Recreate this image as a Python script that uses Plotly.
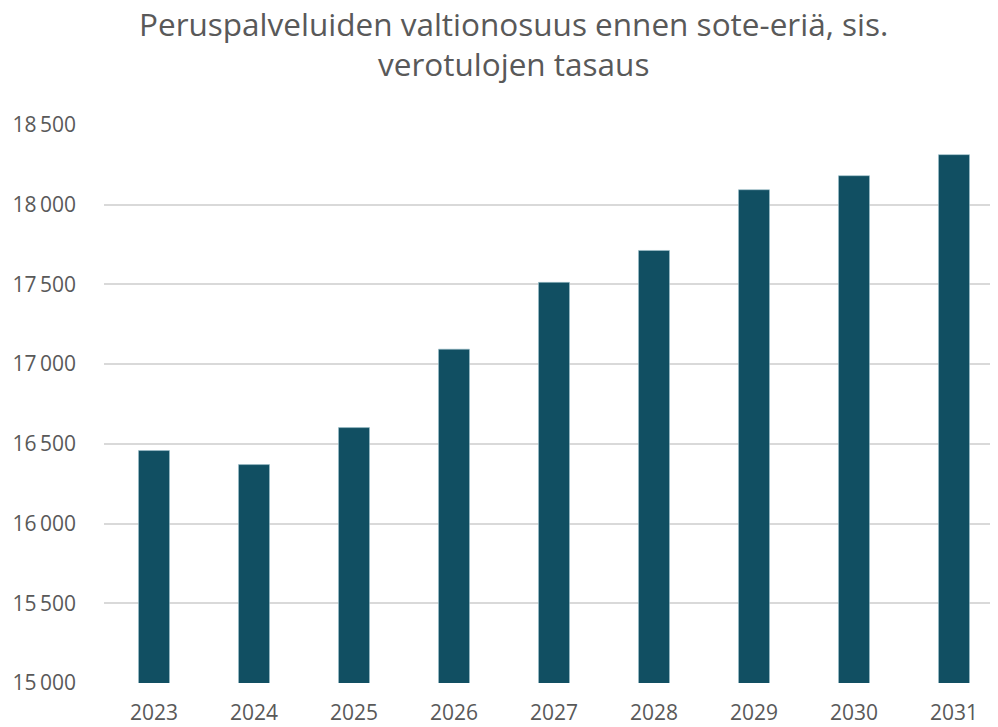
import plotly.graph_objects as go

years = ["2023", "2024", "2025", "2026", "2027", "2028", "2029", "2030", "2031"]
values = [16458, 16370, 16602, 17094, 17513, 17713, 18094, 18182, 18314]
tick_vals = [15000, 15500, 16000, 16500, 17000, 17500, 18000, 18500]
tick_text = ["15\u2009000", "15\u2009500", "16\u2009000", "16\u2009500", "17\u2009000", "17\u2009500", "18\u2009000", "18\u2009500"]
title_lines = ["Peruspalveluiden valtionosuus ennen sote-eriä, sis.", "verotulojen tasaus"]

FONT = "Open Sans"
GREY = "#595959"

fig = go.Figure(go.Bar(
    x=years, y=values,
    marker=dict(color="#114f62", line=dict(color="#9fc3cc", width=0.6)),
    width=0.31,
))

fig.update_layout(
    width=990, height=719,
    paper_bgcolor="white", plot_bgcolor="white",
    margin=dict(l=96, r=0, t=117, b=44),
    showlegend=False,
    font=dict(family=FONT, color=GREY),
    annotations=[
        dict(text=title_lines[0], xref="paper", yref="paper", x=0.4586, y=1.182,
             xanchor="center", yanchor="middle", showarrow=False,
             font=dict(family=FONT, size=31.5, color=GREY)),
        dict(text=title_lines[1], xref="paper", yref="paper", x=0.4586, y=1.111,
             xanchor="center", yanchor="middle", showarrow=False,
             font=dict(family=FONT, size=31.5, color=GREY)),
    ],
)
fig.update_xaxes(
    type="category", range=[-0.5, 8.44],
    showgrid=False, showline=False, zeroline=False,
    tickfont=dict(family=FONT, size=21, color=GREY),
    ticks="", ticklabelstandoff=15,
)
fig.update_yaxes(
    range=[15000, 18500], tickvals=tick_vals, ticktext=tick_text,
    showgrid=True, gridcolor="#d9d9d9", gridwidth=1.5,
    zeroline=False, showline=False,
    tickfont=dict(family=FONT, size=21, color=GREY),
    ticks="", ticklabelstandoff=27,
)

fig.write_html("out.html")
